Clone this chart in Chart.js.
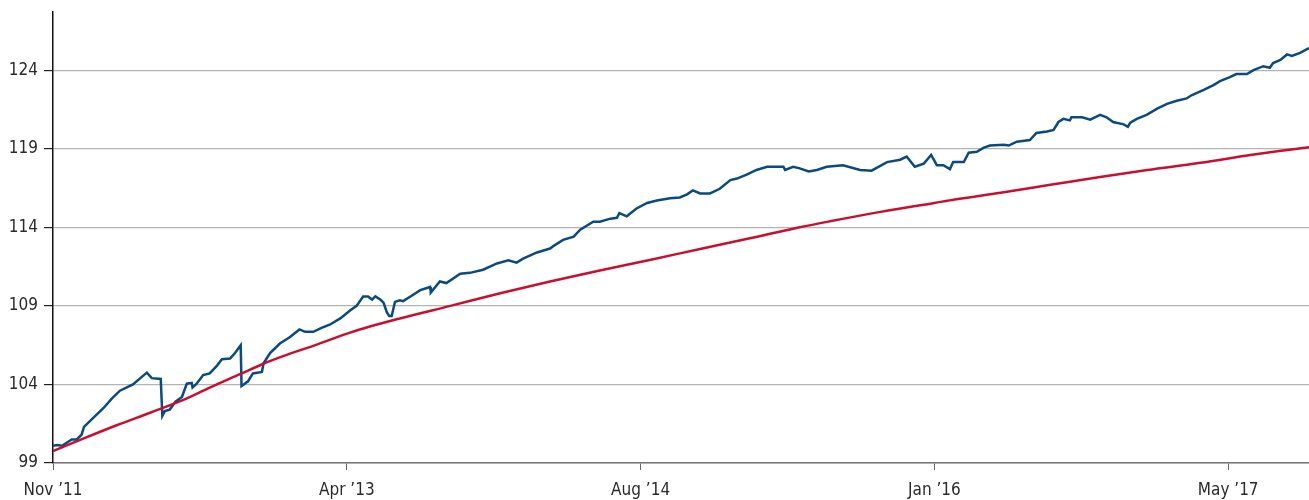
<!DOCTYPE html>
<html>
<head>
<meta charset="utf-8">
<script src="https://cdn.jsdelivr.net/npm/chart.js@4.4.0/dist/chart.umd.min.js"></script>
<style>
  html, body { margin: 0; padding: 0; background: #fff; }
  #wrap { width: 1309px; height: 500px; position: relative; }
</style>
</head>
<body>
<div id="wrap"><canvas id="chart"></canvas></div>
<script>
// x positions are trading-day counts from Nov '11; one tick every 360 days
const tickPositions = [0, 360, 720, 1080, 1440];
const tickLabels = ['Nov \u201911', 'Apr \u201913', 'Aug \u201914', 'Jan \u201916', 'May \u201917'];
const yTicks = [99, 104, 109, 114, 119, 124];

// Blue series (portfolio)
const blueDays = [0, 5, 11, 23, 29, 35, 38, 49, 62, 72, 82, 98, 107, 115, 121, 132, 134, 137, 143, 150,
  158, 164, 170, 171, 176, 184, 192, 201, 207, 217, 223, 230, 231, 239, 245, 256, 258, 266, 278, 290,
  302, 309, 319, 329, 339, 352, 364, 372, 380, 386, 391, 395, 401, 405, 409, 412, 415, 419, 425, 429,
  438, 450, 462, 463, 474, 482, 499, 511, 527, 544, 558, 568, 576, 593, 609, 613, 625, 638, 646, 662,
  670, 683, 691, 694, 703, 715, 728, 740, 756, 768, 777, 784, 793, 805, 817, 830, 838, 850, 862, 875,
  895, 897, 907, 915, 926, 936, 948, 968, 989, 1003, 1022, 1038, 1046, 1056, 1067, 1076, 1083, 1091, 1099, 1103,
  1116, 1122, 1132, 1140, 1148, 1165, 1171, 1181, 1197, 1205, 1218, 1226, 1232, 1238, 1246, 1248, 1261, 1271, 1283, 1291,
  1299, 1312, 1317, 1320, 1328, 1340, 1353, 1365, 1377, 1389, 1395, 1410, 1422, 1430, 1442, 1450, 1463, 1471, 1483, 1491,
  1495, 1504, 1512, 1518, 1528, 1539];
const blueValues = [100.1, 100.15, 100.1, 100.5, 100.5, 100.8, 101.3, 101.85, 102.5, 103.1, 103.6, 104.0, 104.4, 104.75, 104.4, 104.35, 102.0, 102.3, 102.4, 102.9,
  103.2, 104.05, 104.1, 103.8, 104.05, 104.6, 104.7, 105.2, 105.6, 105.65, 106.0, 106.5, 103.9, 104.2, 104.7, 104.8, 105.35, 106.0, 106.6, 107.0,
  107.5, 107.35, 107.35, 107.6, 107.8, 108.2, 108.7, 109.0, 109.6, 109.6, 109.4, 109.6, 109.4, 109.2, 108.6, 108.35, 108.35, 109.25, 109.35, 109.3,
  109.6, 110.0, 110.2, 109.85, 110.55, 110.45, 111.05, 111.1, 111.3, 111.7, 111.9, 111.75, 112.0, 112.4, 112.65, 112.8, 113.2, 113.4, 113.85, 114.35,
  114.35, 114.55, 114.6, 114.9, 114.7, 115.2, 115.55, 115.7, 115.85, 115.9, 116.1, 116.35, 116.15, 116.15, 116.45, 117.0, 117.1, 117.35, 117.65, 117.85,
  117.85, 117.65, 117.85, 117.75, 117.55, 117.65, 117.85, 117.95, 117.65, 117.6, 118.15, 118.3, 118.5, 117.85, 118.05, 118.6, 117.95, 117.95, 117.7, 118.15,
  118.15, 118.75, 118.8, 119.05, 119.2, 119.25, 119.2, 119.45, 119.55, 120.0, 120.1, 120.2, 120.7, 120.9, 120.8, 121.0, 121.0, 120.85, 121.15, 121.0,
  120.7, 120.55, 120.4, 120.65, 120.9, 121.15, 121.55, 121.85, 122.05, 122.2, 122.4, 122.75, 123.05, 123.3, 123.55, 123.75, 123.75, 124.0, 124.25, 124.15,
  124.45, 124.65, 125.0, 124.9, 125.1, 125.4];

// Red series (benchmark)
const redDays = [0, 37, 78, 119, 159, 192, 229, 257, 282, 324, 364, 425, 487, 548, 609, 670, 734, 793, 854, 915,
  952, 1014, 1080, 1105, 1161, 1222, 1283, 1341, 1406, 1467, 1539];
const redValues = [99.76, 100.55, 101.4, 102.2, 103.0, 103.8, 104.65, 105.3, 105.8, 106.55, 107.3, 108.2, 109.0, 109.8, 110.55, 111.25, 111.95, 112.62, 113.3, 114.0,
  114.38, 114.98, 115.55, 115.77, 116.2, 116.7, 117.2, 117.65, 118.1, 118.6, 119.1];

const FONT = "'DejaVu Sans Condensed', 'Liberation Sans', Arial, sans-serif";

function toPoints(xs, ys) {
    return xs.map((x, i) => ({ x: x, y: ys[i] }));
}

new Chart(document.getElementById('chart'), {
    type: 'line',
    data: {
        datasets: [
            {
                label: 'Benchmark',
                data: toPoints(redDays, redValues),
                borderColor: '#c8102e',
                borderWidth: 2.5,
                pointRadius: 0,
                cubicInterpolationMode: 'monotone',
                fill: false
            },
            {
                label: 'Portfolio',
                data: toPoints(blueDays, blueValues),
                borderColor: '#0b4a7d',
                borderWidth: 2.5,
                pointRadius: 0,
                tension: 0,
                fill: false
            }
        ]
    },
    options: {
        responsive: true,
        maintainAspectRatio: false,
        animation: false,
        layout: { padding: { top: 12, right: 0, left: 0, bottom: 0 } },
        plugins: {
            legend: { display: false },
            tooltip: { enabled: false }
        },
        scales: {
            x: {
                type: 'linear',
                min: 0,
                max: 1539,
                afterBuildTicks: function(axis) {
                    axis.ticks = tickPositions.map(v => ({ value: v }));
                },
                afterFit: function(axis) {
                    axis.height = 37;
                    axis.paddingLeft = 0;
                    axis.paddingRight = 0;
                },
                ticks: {
                    autoSkip: false,
                    maxRotation: 0,
                    padding: 10,
                    color: '#2a2a2a',
                    font: { family: FONT, size: 17 },
                    callback: function(value) {
                        const i = tickPositions.indexOf(value);
                        return i >= 0 ? tickLabels[i] : '';
                    }
                },
                grid: {
                    drawOnChartArea: false,
                    tickLength: 7,
                    tickColor: '#666',
                    lineWidth: 1
                },
                border: { color: '#777', width: 1.5 }
            },
            y: {
                min: 99,
                max: 127.7,
                afterBuildTicks: function(axis) {
                    axis.ticks = yTicks.map(v => ({ value: v }));
                },
                afterFit: function(axis) {
                    axis.width = 53;
                    axis.paddingTop = 0;
                    axis.paddingBottom = 0;
                },
                ticks: {
                    padding: 6,
                    color: '#2a2a2a',
                    font: { family: FONT, size: 17 }
                },
                grid: {
                    color: '#b4b4b4',
                    lineWidth: 1.2,
                    tickLength: 9,
                    tickColor: '#222'
                },
                border: { color: '#111', width: 1.5 }
            }
        }
    }
});
</script>
</body>
</html>
